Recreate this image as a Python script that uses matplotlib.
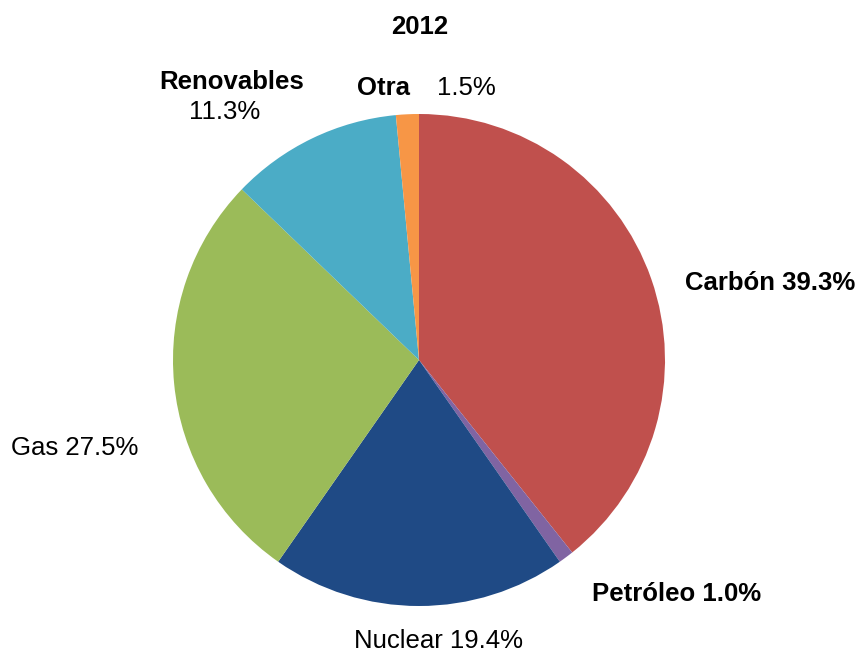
import matplotlib.pyplot as plt

# generation mix 2012, clockwise from the top
fuentes = ["Carbón", "Petróleo", "Nuclear", "Gas", "Renovables", "Otra"]
porcentajes = [39.3, 1.0, 19.4, 27.5, 11.3, 1.5]
colores = ["#C0504D", "#8064A2", "#1F4A85", "#9BBB59", "#4BACC6", "#F79646"]

plt.rcParams['font.family'] = ['Liberation Sans', 'DejaVu Sans']

fig = plt.figure(figsize=(8.61, 6.52), dpi=100)
ax = fig.add_axes([0, 0, 1, 1])

# pie in pixel coords (y axis flipped, so counterclock=True draws clockwise on screen)
ax.pie(porcentajes, colors=colores, startangle=-90, counterclock=True,
       center=(419, 360), radius=246, frame=True,
       wedgeprops=dict(linewidth=0))
ax.set_xlim(0, 861)
ax.set_ylim(652, 0)
ax.set_aspect('equal')
ax.axis('off')

fs = 18.5
ax.text(420, 27, "2012", ha='center', va='center', fontsize=fs, fontweight='bold')
ax.text(232, 82, "Renovables", ha='center', va='center', fontsize=fs, fontweight='bold')
ax.text(225, 112, "%.1f%%" % porcentajes[4], ha='center', va='center', fontsize=fs)
ax.text(384, 88, "Otra", ha='center', va='center', fontsize=fs, fontweight='bold')
ax.text(466, 88, "%.1f%%" % porcentajes[5], ha='center', va='center', fontsize=fs)
ax.text(770, 283, "Carbón %.1f%%" % porcentajes[0], ha='center', va='center',
        fontsize=fs, fontweight='bold')
ax.text(677, 594, "Petróleo %.1f%%" % porcentajes[1], ha='center', va='center',
        fontsize=fs, fontweight='bold')
ax.text(438, 641, "Nuclear %.1f%%" % porcentajes[2], ha='center', va='center', fontsize=fs)
ax.text(75, 448, "Gas %.1f%%" % porcentajes[3], ha='center', va='center', fontsize=fs)

fig.savefig("out.png", dpi=100)
